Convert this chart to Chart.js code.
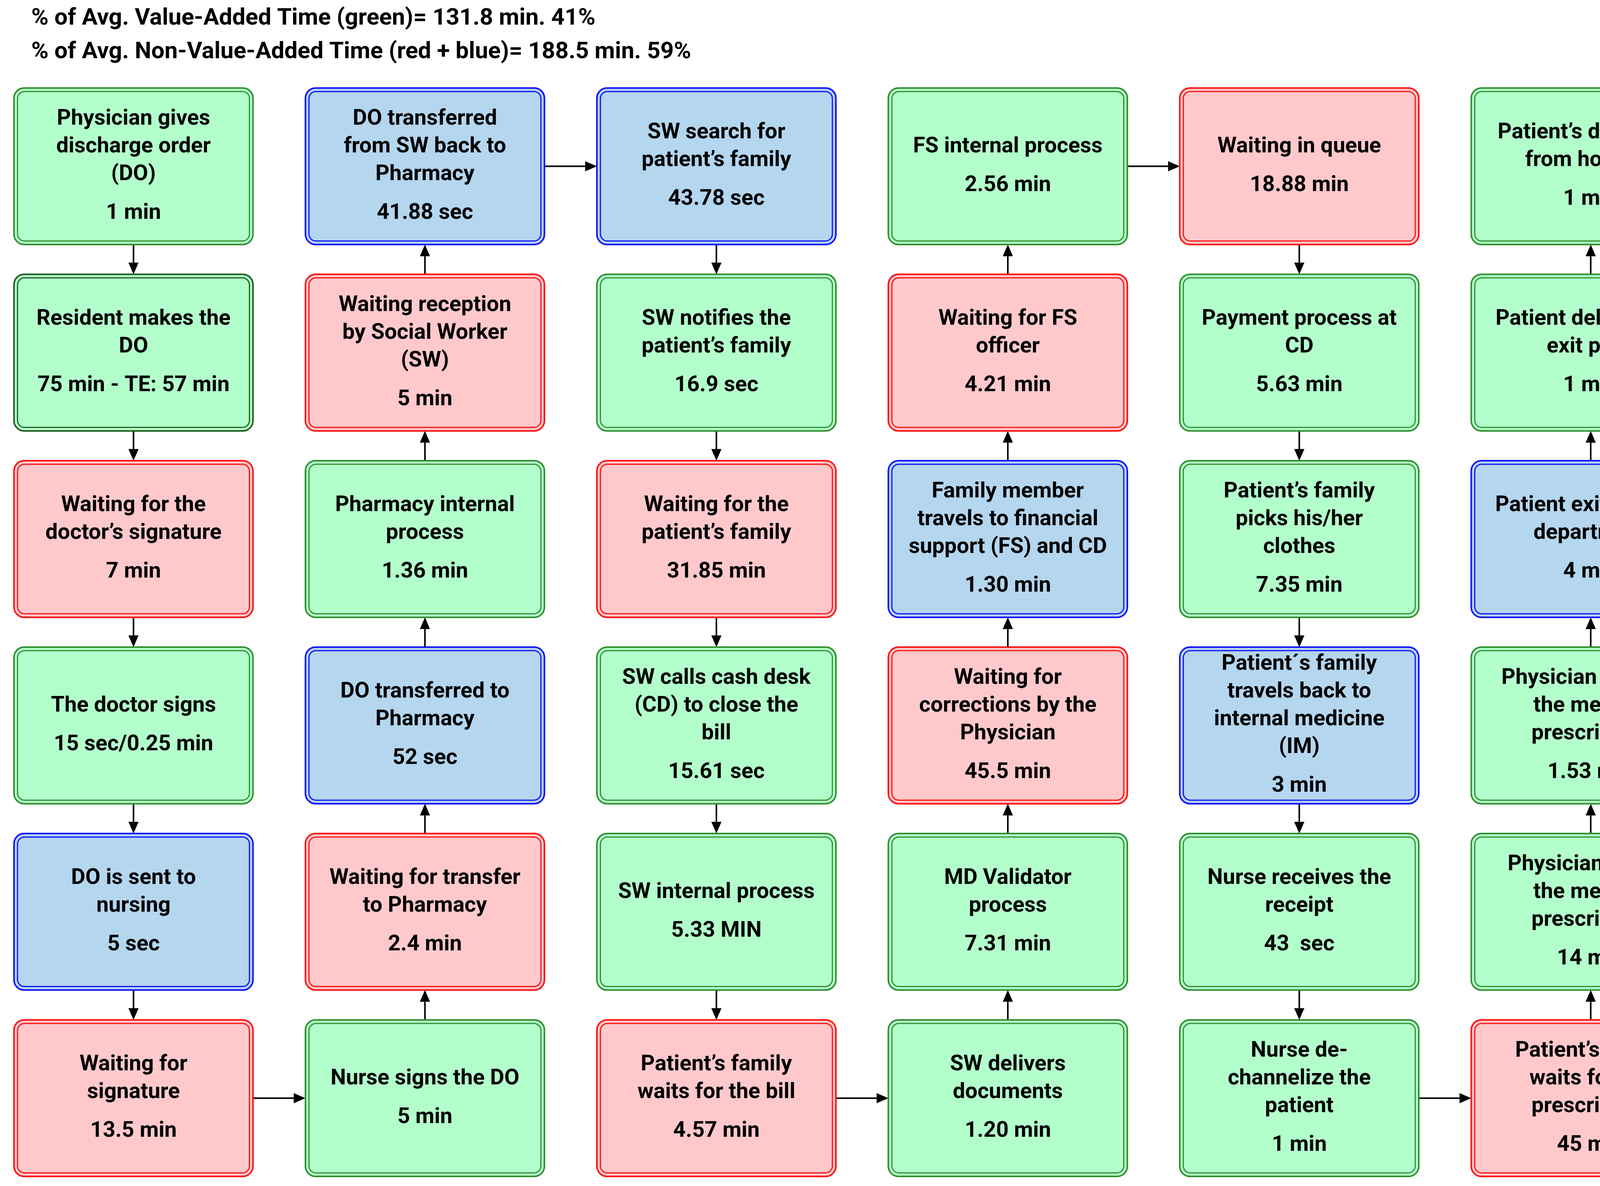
<!DOCTYPE html>
<html>
<head>
<meta charset="utf-8">
<script src="https://cdn.jsdelivr.net/npm/chart.js@4.4.0/dist/chart.umd.min.js"></script>
<style>
  html, body { margin: 0; padding: 0; background: #fff; overflow: hidden; }
  #flow { display: block; width: 4412px; height: 3035px; }
</style>
</head>
<body>
<canvas id="flow" width="4412" height="3035"></canvas>
<script>
// Header lines
const headerLines = [
  '% of Avg. Value-Added Time (green)= 131.8 min. 41%',
  '% of Avg. Non-Value-Added Time (red + blue)= 188.5 min. 59%'
];

// Step data: column, row, text, time, type (G = value added, R = waiting, B = transfer)
const stepCols = [0,0,0,0,0,0, 1,1,1,1,1,1, 2,2,2,2,2,2, 3,3,3,3,3,3, 4,4,4,4,4,4, 5,5,5,5,5,5];
const stepRows = [0,1,2,3,4,5, 0,1,2,3,4,5, 0,1,2,3,4,5, 0,1,2,3,4,5, 0,1,2,3,4,5, 0,1,2,3,4,5];
const stepText = [
  ['Physician gives','discharge order','(DO)'], ['Resident makes the','DO'], ['Waiting for the','doctor’s signature'],
  ['The doctor signs'], ['DO is sent to','nursing'], ['Waiting for','signature'],
  ['DO transferred','from SW back to','Pharmacy'], ['Waiting reception','by Social Worker','(SW)'], ['Pharmacy internal','process'],
  ['DO transferred to','Pharmacy'], ['Waiting for transfer','to Pharmacy'], ['Nurse signs the DO'],
  ['SW search for','patient’s family'], ['SW notifies the','patient’s family'], ['Waiting for the','patient’s family'],
  ['SW calls cash desk','(CD) to close the','bill'], ['SW internal process'], ['Patient’s family','waits for the bill'],
  ['FS internal process'], ['Waiting for FS','officer'], ['Family member','travels to financial','support (FS) and CD'],
  ['Waiting for','corrections by the','Physician'], ['MD Validator','process'], ['SW delivers','documents'],
  ['Waiting in queue'], ['Payment process at','CD'], ['Patient’s family','picks his/her','clothes'],
  ['Patient´s family','travels back to','internal medicine','(IM)'], ['Nurse receives the','receipt'], ['Nurse de-','channelize the','patient'],
  ['Patient’s departure','from hospital'], ['Patient delivers the','exit pass'], ['Patient exits the IM','department'],
  ['Physician delivers','the medical','prescription'], ['Physician makes','the medical','prescription'], ['Patient’s family','waits for the','prescription']
];
const stepTime = [
  '1 min','75 min - TE: 57 min','7 min','15 sec/0.25 min','5 sec','13.5 min',
  '41.88 sec','5 min','1.36 min','52 sec','2.4 min','5 min',
  '43.78 sec','16.9 sec','31.85 min','15.61 sec','5.33 MIN','4.57 min',
  '2.56 min','4.21 min','1.30 min','45.5 min','7.31 min','1.20 min',
  '18.88 min','5.63 min','7.35 min','3 min','43  sec','1 min',
  '1 min','1 min','4 min','1.53 min','14 min','45 min'
];
const stepType = [
  'G','D','R','G','B','R',
  'B','R','G','B','R','G',
  'B','G','R','G','G','R',
  'G','R','B','R','G','G',
  'R','G','G','B','G','G',
  'G','G','B','G','G','R'
];
// flow direction per column: 1 = down, -1 = up
const colDir = [1, -1, 1, -1, 1, -1];
// horizontal links between columns [fromCol, row, toCol]
const links = [[0,5,1],[1,0,2],[2,5,3],[3,0,4],[4,5,5]];

const palette = {
  G: { fill: '#b3ffcb', line: '#2f8f2f' },
  D: { fill: '#b3ffcb', line: '#1e5e1e' },
  R: { fill: '#ffc9cc', line: '#ff1010' },
  B: { fill: '#b4d6ef', line: '#1010ff' }
};

const BOX_W = 0.82, BOX_H = 0.84;

function roundRect(ctx, x, y, w, h, r) {
  ctx.beginPath();
  ctx.moveTo(x + r, y);
  ctx.arcTo(x + w, y, x + w, y + h, r);
  ctx.arcTo(x + w, y + h, x, y + h, r);
  ctx.arcTo(x, y + h, x, y, r);
  ctx.arcTo(x, y, x + w, y, r);
  ctx.closePath();
}

function arrow(ctx, x1, y1, x2, y2) {
  const a = Math.atan2(y2 - y1, x2 - x1), hl = 30, hw = 13;
  ctx.strokeStyle = '#000'; ctx.fillStyle = '#000'; ctx.lineWidth = 4;
  ctx.beginPath();
  ctx.moveTo(x1, y1);
  ctx.lineTo(x2 - Math.cos(a) * hl, y2 - Math.sin(a) * hl);
  ctx.stroke();
  ctx.beginPath();
  ctx.moveTo(x2, y2);
  ctx.lineTo(x2 - Math.cos(a) * hl - Math.sin(a) * hw, y2 - Math.sin(a) * hl + Math.cos(a) * hw);
  ctx.lineTo(x2 - Math.cos(a) * hl + Math.sin(a) * hw, y2 - Math.sin(a) * hl - Math.cos(a) * hw);
  ctx.closePath();
  ctx.fill();
}

const flowPlugin = {
  id: 'flow',
  afterDatasetsDraw(chart) {
    const ctx = chart.ctx;
    const xs = chart.scales.x, ys = chart.scales.y;
    const pw = Math.abs(xs.getPixelForValue(BOX_W) - xs.getPixelForValue(0));
    const ph = Math.abs(ys.getPixelForValue(BOX_H) - ys.getPixelForValue(0));
    const pts = chart.getDatasetMeta(0).data;
    ctx.save();

    // header
    ctx.fillStyle = '#000';
    ctx.font = 'bold 60px Roboto';
    ctx.textAlign = 'left'; ctx.textBaseline = 'middle';
    headerLines.forEach((t, i) => ctx.fillText(t, 80, 48 + i * 86));

    // arrows inside columns
    for (let c = 0; c < 6; c++) {
      for (let r = 0; r < 5; r++) {
        const x = xs.getPixelForValue(c);
        const yTop = ys.getPixelForValue(r) + ph / 2;
        const yBot = ys.getPixelForValue(r + 1) - ph / 2;
        if (colDir[c] > 0) arrow(ctx, x, yTop, x, yBot);
        else arrow(ctx, x, yBot, x, yTop);
      }
    }
    links.forEach(([c1, r, c2]) => {
      const y = ys.getPixelForValue(r);
      arrow(ctx, xs.getPixelForValue(c1) + pw / 2, y, xs.getPixelForValue(c2) - pw / 2, y);
    });

    // boxes
    pts.forEach((p, i) => {
      const col = palette[stepType[i]];
      const x0 = p.x - pw / 2, y0 = p.y - ph / 2;
      roundRect(ctx, x0, y0, pw, ph, 26);
      ctx.fillStyle = col.fill; ctx.fill();
      ctx.strokeStyle = col.line; ctx.lineWidth = 4; ctx.stroke();
      roundRect(ctx, x0 + 9, y0 + 9, pw - 18, ph - 18, 18);
      ctx.lineWidth = 3; ctx.stroke();

      const lines = stepText[i], lh = 71, gap = 28;
      const total = lines.length * lh + gap + lh;
      let y = p.y - total / 2 + lh / 2;
      ctx.fillStyle = '#000';
      ctx.font = 'bold 56px Roboto';
      ctx.textAlign = 'center'; ctx.textBaseline = 'middle';
      lines.forEach(t => { ctx.fillText(t, p.x, y, pw - 40); y += lh; });
      ctx.fillText(stepTime[i], p.x, y + gap, pw - 40);
    });
    ctx.restore();
  }
};

Chart.defaults.devicePixelRatio = 1;
new Chart(document.getElementById('flow'), {
  type: 'scatter',
  data: {
    datasets: [{
      data: stepCols.map((c, i) => ({ x: c, y: stepRows[i] })),
      pointRadius: 0,
      pointHoverRadius: 0
    }]
  },
  options: {
    responsive: false,
    animation: false,
    layout: { padding: { left: 6, right: 4, top: 187, bottom: 34 } },
    scales: {
      x: { min: -0.45, max: 5.45, display: false },
      y: { min: -0.5, max: 5.4, reverse: true, display: false }
    },
    plugins: { legend: { display: false }, tooltip: { enabled: false } }
  },
  plugins: [flowPlugin]
});
</script>
</body>
</html>
